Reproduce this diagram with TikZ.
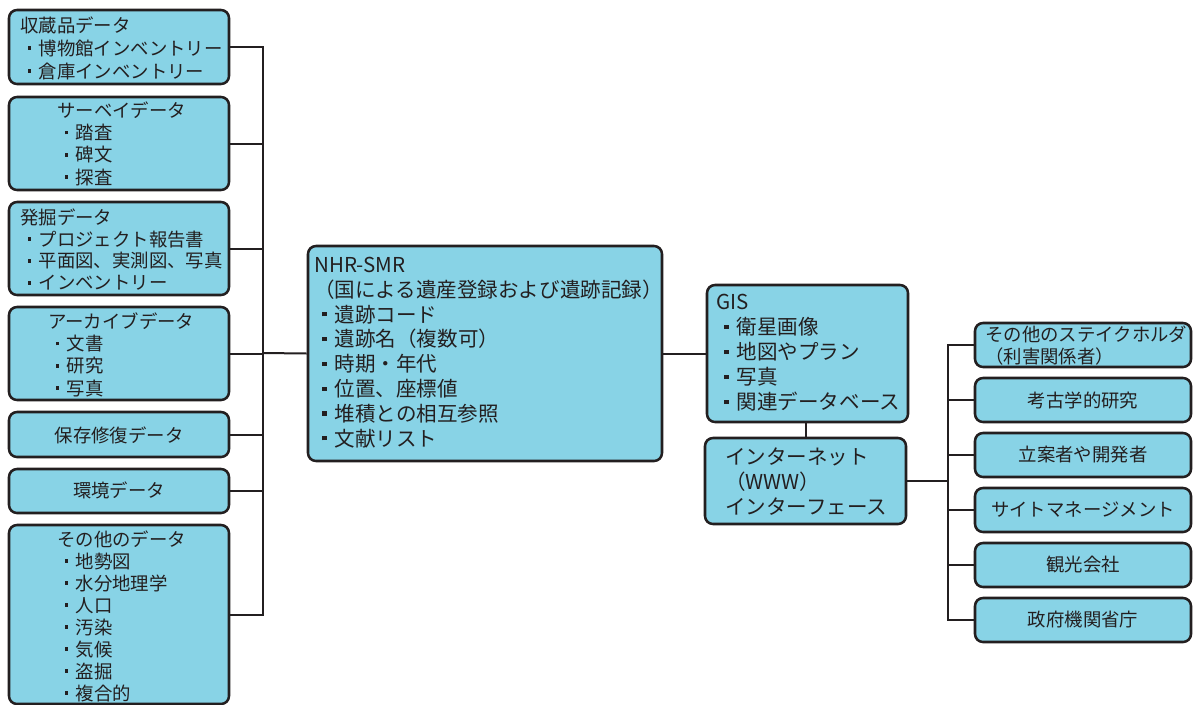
\documentclass[tikz,border=0pt]{standalone}
\usepackage{fontspec}
\setmainfont{Noto Sans CJK JP}
\usetikzlibrary{fit}
\definecolor{boxfill}{HTML}{88D3E6}
\definecolor{ink}{HTML}{231F20}
\newcommand\bul{\makebox[1em][c]{\rule[0.28em]{0.2em}{0.2em}}}
\begin{document}
\begin{tikzpicture}[x=0.75pt,y=-0.75pt,
  box/.style={draw=ink, fill=boxfill, line width=1.9pt, rounded corners=6pt, inner sep=0pt},
  conn/.style={draw=ink, line width=1.5pt},
  lt/.style={align=left, inner sep=0pt, text=ink, anchor=west, font=\fontsize{13.8}{16.75}\selectfont},
  ct/.style={align=center, inner sep=0pt, text=ink, font=\fontsize{13.8}{16.75}\selectfont},
  mt/.style={align=left, inner sep=0pt, text=ink, anchor=west, font=\fontsize{15.4}{18.6}\selectfont}]
\useasboundingbox (0,0) rectangle (1193,704);
\clip (0,0) rectangle (1193,704);
% left boxes
\node[box, fit={(9,10) (229,84)}] (b1) {};
\node[box, fit={(9,97) (229,190)}] (b2) {};
\node[box, fit={(9,202) (229,295)}] (b3) {};
\node[box, fit={(9,307) (229,400)}] (b4) {};
\node[box, fit={(9,412) (229,457)}] (b5) {};
\node[box, fit={(9,469) (229,513)}] (b6) {};
\node[box, fit={(9,525) (229,704)}] (b7) {};
% centre
\node[box, fit={(308,246) (662,461)}] (nhr) {};
\node[box, fit={(707,285) (908,422)}] (gis) {};
\node[box, fit={(705,438) (906,524)}] (inet) {};
% right boxes
\node[box, fit={(975,323) (1191,367)}] (r1) {};
\node[box, fit={(975,378) (1191,422)}] (r2) {};
\node[box, fit={(975,433) (1191,477)}] (r3) {};
\node[box, fit={(975,488) (1191,532)}] (r4) {};
\node[box, fit={(975,543) (1191,587)}] (r5) {};
\node[box, fit={(975,598) (1191,642)}] (r6) {};
% connectors
\coordinate (jL) at (263,353);
\foreach \b in {b1,b2,b3,b4,b5,b6,b7} \draw[conn] (\b.east) -| (jL);
\draw[conn] (jL) -- (nhr.west);
\draw[conn] (nhr.east) -- (nhr.east -| gis.west);
\draw[conn] (806,422) -- (806,438);
\coordinate (jR) at (948,481);
\draw[conn] (inet.east |- jR) -- (jR);
\foreach \r in {r1,r2,r3,r4,r5,r6} \draw[conn] (\r.west) -| (jR);
% texts
\node[lt, font=\fontsize{13.8}{17.25}\selectfont] (t1) at (20,48) {収蔵品データ\\\bul 博物館インベントリー\\\bul 倉庫インベントリー};
\node[lt] (t2) at (57,143.5) {サーベイデータ\\\bul 踏査\\\bul 碑文\\\bul 探査};
\node[lt, font=\fontsize{13.8}{16.4}\selectfont] (t3) at (20,249.5) {発掘データ\\\bul プロジェクト報告書\\\bul 平面図、実測図、写真\\\bul インベントリー};
\node[lt] (t4) at (48,354.5) {アーカイブデータ\\\bul 文書\\\bul 研究\\\bul 写真};
\node[ct] (t5) at (119,435) {保存修復データ};
\node[ct] (t6) at (119,490) {環境データ};
\node[lt, font=\fontsize{13.8}{16.5}\selectfont] (t7) at (57,616) {その他のデータ\\\bul 地勢図\\\bul 水分地理学\\\bul 人口\\\bul 汚染\\\bul 気候\\\bul 盗掘\\\bul 複合的};
\node[mt] (tn) at (314,352.5) {NHR-SMR\\（国による遺産登録および遺跡記録）\\\bul 遺跡コード\\\bul 遺跡名（複数可）\\\bul 時期・年代\\\bul 位置、座標値\\\bul 堆積との相互参照\\\bul 文献リスト};
\node[mt, font=\fontsize{15.4}{18.75}\selectfont] (tg) at (716,353) {GIS\\\bul 衛星画像\\\bul 地図やプラン\\\bul 写真\\\bul 関連データベース};
\node[mt, font=\fontsize{15.4}{18.75}\selectfont] (ti) at (725,482) {インターネット\\（WWW）\\インターフェース};
\node[lt, font=\fontsize{13.8}{16.5}\selectfont] (tr1) at (985,346) {その他のステイクホルダ\\（利害関係者）};
\node[ct] (tr2) at (r2.center) {考古学的研究};
\node[ct] (tr3) at (r3.center) {立案者や開発者};
\node[ct] (tr4) at (r4.center) {サイトマネージメント};
\node[ct] (tr5) at (r5.center) {観光会社};
\node[ct] (tr6) at (r6.center) {政府機関省庁};
\end{tikzpicture}
\end{document}
